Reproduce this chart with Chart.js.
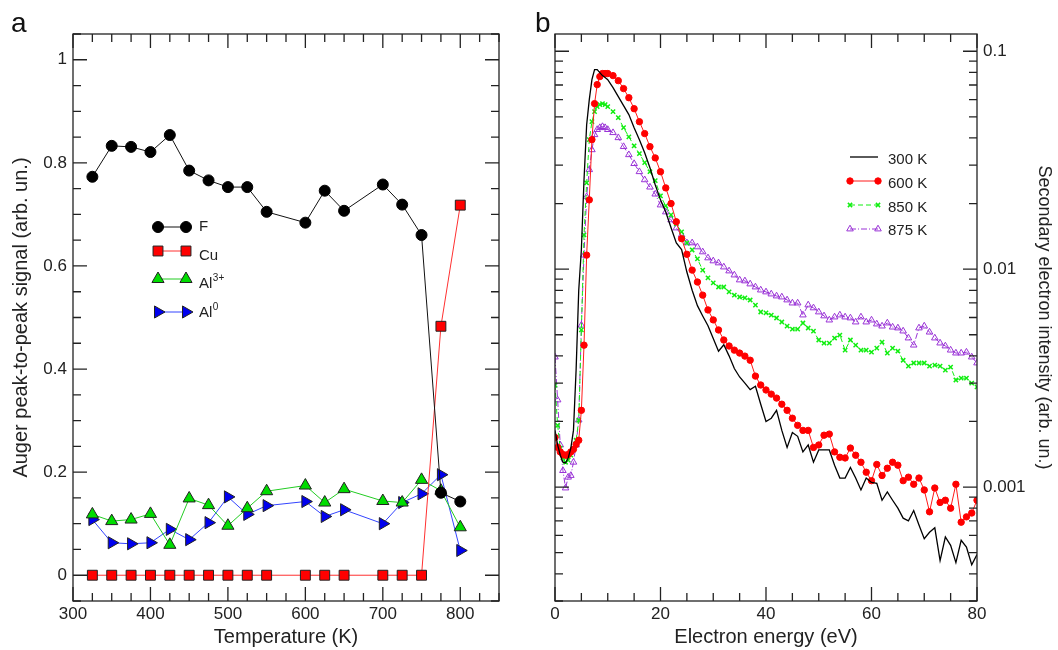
<!DOCTYPE html>
<html>
<head>
<meta charset="utf-8">
<script src="https://cdn.jsdelivr.net/npm/chart.js@4.4.0/dist/chart.umd.min.js"></script>
<style>
  body { margin: 0; background: #fff; width: 1058px; height: 650px; overflow: hidden; position: relative;
         font-family: 'Liberation Sans', Arial, Helvetica, sans-serif; color: #111; }
  .panel { position: absolute; top: 0; height: 650px; }
  #wrapA { left: 0; width: 530px; }
  #wrapB { left: 530px; width: 528px; }
  .tag { position: absolute; font-size: 28px; line-height: 28px; top: 9px; }
</style>
</head>
<body>
<div class="panel" id="wrapA"><canvas id="chartA" width="530" height="650"></canvas></div>
<div class="panel" id="wrapB"><canvas id="chartB" width="528" height="650"></canvas></div>
<div class="tag" style="left:11px">a</div>
<div class="tag" style="left:535px">b</div>
<script>
// ---- panel a : Auger signal vs temperature
const tempK   = [325, 350, 375, 400, 425, 450, 475, 500, 525, 550, 600, 625, 650, 700, 725, 750, 775, 800];
const fluorine = [0.773, 0.833, 0.831, 0.821, 0.854, 0.785, 0.766, 0.753, 0.753, 0.705, 0.684, 0.746, 0.707, 0.758, 0.719, 0.660, 0.160, 0.143];
const copper   = [0, 0, 0, 0, 0, 0, 0, 0, 0, 0, 0, 0, 0, 0, 0, 0, 0.483, 0.718];
const alum3    = [0.118, 0.105, 0.108, 0.119, 0.059, 0.149, 0.136, 0.096, 0.130, 0.163, 0.174, 0.141, 0.167, 0.144, 0.141, 0.185, 0.164, 0.093];
const alum0    = [0.108, 0.063, 0.061, 0.063, 0.089, 0.069, 0.102, 0.152, 0.118, 0.135, 0.143, 0.114, 0.127, 0.100, 0.141, 0.158, 0.195, 0.048];
const tempTicks   = [300, 400, 500, 600, 700, 800];
const signalTicks = [0, 0.2, 0.4, 0.6, 0.8, 1];

// ---- panel b : secondary electron spectra
const energyEV = [0, 0.5, 1, 1.5, 2, 2.5, 3, 3.5, 4, 4.5, 5, 5.5, 6, 6.5, 7, 7.5, 8, 8.5, 9, 9.5, 10,
  11, 12, 13, 14, 15, 16, 17, 18, 19, 20,
  21, 22, 23, 24, 25, 26, 27, 28, 29, 30,
  31, 32, 33, 34, 35, 36, 37, 38, 39, 40,
  41, 42, 43, 44, 45, 46, 47, 48, 49, 50,
  51, 52, 53, 54, 55, 56, 57, 58, 59, 60,
  61, 62, 63, 64, 65, 66, 67, 68, 69, 70,
  71, 72, 73, 74, 75, 76, 77, 78, 79, 80];
const se300 = [0.00182, 0.00156, 0.0014, 0.0013, 0.00129, 0.00136, 0.00151, 0.00182, 0.00344, 0.0080, 0.0123, 0.0257, 0.046, 0.060, 0.0741, 0.0824, 0.0824, 0.0798, 0.0773, 0.0757, 0.0741,
  0.0681, 0.0619, 0.0563, 0.0512, 0.0446, 0.0393, 0.0342, 0.0292, 0.0244, 0.0208,
  0.0183, 0.0155, 0.0132, 0.0123, 0.0097, 0.0080, 0.0068, 0.0061, 0.0055, 0.0048,
  0.0042, 0.0045, 0.0040, 0.0035, 0.0032, 0.0030, 0.0028, 0.0029, 0.0024, 0.0020,
  0.00207, 0.00225, 0.00182, 0.00152, 0.00178, 0.00171, 0.00145, 0.00156, 0.0013, 0.00148,
  0.00148, 0.00148, 0.00126, 0.0011, 0.0011, 0.00123, 0.0011, 0.00097, 0.0011, 0.00105,
  0.00104, 0.00087, 0.00095, 0.00087, 0.0008, 0.00072, 0.0007, 0.00078, 0.00067, 0.00058,
  0.00062, 0.00065, 0.00046, 0.00059, 0.00054, 0.00045, 0.00057, 0.00053, 0.00044, 0.00049];
const se600 = [0.00169, 0.00152, 0.00145, 0.00141, 0.0014, 0.00141, 0.00145, 0.00149, 0.00157, 0.00164, 0.00225, 0.00448, 0.0116, 0.0208, 0.0393, 0.0575, 0.0703, 0.0765, 0.079, 0.079, 0.079,
  0.0773, 0.0733, 0.0674, 0.0612, 0.0545, 0.0475, 0.0419, 0.0365, 0.0324, 0.0280,
  0.0236, 0.0200, 0.0165, 0.0138, 0.0117, 0.0099, 0.00873, 0.0076, 0.0065, 0.00585,
  0.00526, 0.00473, 0.00444, 0.00425, 0.00412, 0.00399, 0.00382, 0.00323, 0.00294, 0.00279,
  0.00267, 0.00256, 0.0024, 0.00225, 0.00207, 0.00192, 0.00182, 0.00182, 0.00152, 0.00156,
  0.00173, 0.00175, 0.00145, 0.00137, 0.00136, 0.00151, 0.0014, 0.0013, 0.00117, 0.00107,
  0.00127, 0.00113, 0.00122, 0.0013, 0.00126, 0.00107, 0.00111, 0.00103, 0.0011, 0.00097,
  0.00077, 0.00099, 0.00085, 0.00087, 0.0008, 0.00103, 0.00069, 0.00073, 0.00076, 0.00087];
const se850 = [0.00294, 0.00192, 0.00151, 0.00136, 0.0013, 0.00133, 0.0014, 0.00148, 0.00164, 0.00203, 0.00526, 0.01436, 0.0249, 0.0393, 0.0475, 0.0528, 0.0557, 0.0569, 0.0575, 0.0569, 0.0557,
  0.0528, 0.0496, 0.0446, 0.0405, 0.0368, 0.0339, 0.0308, 0.0280, 0.0255, 0.0217,
  0.0195, 0.01774, 0.01614, 0.01483, 0.0132, 0.01225, 0.01114, 0.0099, 0.00912, 0.00865,
  0.00828, 0.00828, 0.00786, 0.0076, 0.00745, 0.00738, 0.00722, 0.00684, 0.00636, 0.0063,
  0.00615, 0.00597, 0.00572, 0.00548, 0.00531, 0.00531, 0.00566, 0.00537, 0.0052, 0.00473,
  0.00458, 0.00458, 0.00483, 0.00498, 0.00425, 0.00473, 0.00448, 0.00425, 0.00425, 0.00416,
  0.00434, 0.00463, 0.00412, 0.00434, 0.00421, 0.00382, 0.00359, 0.00371, 0.00371, 0.00371,
  0.00359, 0.00363, 0.00359, 0.00344, 0.00355, 0.0031, 0.00316, 0.00316, 0.003, 0.00288];
const se875 = [0.00395, 0.00251, 0.00156, 0.00119, 0.00099, 0.00111, 0.00113, 0.0013, 0.00156, 0.00203, 0.00553, 0.0116, 0.0215, 0.0286, 0.0353, 0.0414, 0.0437, 0.0446, 0.0451, 0.0446, 0.0437,
  0.0423, 0.0401, 0.0365, 0.0335, 0.0305, 0.0280, 0.0257, 0.0238, 0.0221, 0.0197,
  0.0183, 0.01683, 0.01545, 0.01436, 0.0132, 0.0132, 0.01265, 0.012, 0.01126, 0.01091,
  0.01068, 0.01023, 0.00981, 0.0094, 0.00892, 0.00883, 0.00855, 0.00828, 0.00802, 0.00786,
  0.00769, 0.00753, 0.00745, 0.00722, 0.00699, 0.00699, 0.00616, 0.00685, 0.00664, 0.00636,
  0.0061, 0.00584, 0.00603, 0.00616, 0.00603, 0.00597, 0.00572, 0.00603, 0.00572, 0.00584,
  0.0056, 0.00548, 0.00566, 0.00542, 0.00537, 0.0052, 0.00483, 0.00448, 0.00537, 0.00548,
  0.00514, 0.00483, 0.00458, 0.00444, 0.00425, 0.00412, 0.00412, 0.00416, 0.00395, 0.00371];
const energyTicks    = [0, 20, 40, 60, 80];
const intensityTicks = [0.001, 0.01, 0.1];

const FONT = "'Liberation Sans', Arial, Helvetica, sans-serif";
const INK = '#222';

// inward ticks on all four sides + frame
const frameTicks = {
  id: 'frameTicks',
  afterDatasetsDraw(chart, args, o) {
    const { ctx, chartArea: a } = chart;
    const xs = chart.scales.x, ys = chart.scales.y;
    ctx.save();
    ctx.strokeStyle = INK;
    ctx.lineWidth = 1.3;
    ctx.strokeRect(a.left, a.top, a.right - a.left, a.bottom - a.top);
    ctx.beginPath();
    const xMaj = xs.ticks.map(t => t.value);
    for (let i = 0; ; i++) {
      const v = xs.min + i * o.xMinor;
      if (v > xs.max + 1e-9) break;
      const len = xMaj.some(m => Math.abs(m - v) < 1e-6) ? 14 : 8;
      const px = xs.getPixelForValue(v);
      ctx.moveTo(px, a.bottom); ctx.lineTo(px, a.bottom - len);
      ctx.moveTo(px, a.top); ctx.lineTo(px, a.top + len);
    }
    const yMaj = ys.ticks.map(t => t.value);
    const yVals = [];
    if (o.yLog) {
      for (let k = -5; k <= 1; k++) for (let d = 1; d <= 9; d++) {
        const v = d * Math.pow(10, k);
        if (v >= ys.min && v <= ys.max) yVals.push([v, d === 1]);
      }
    } else {
      for (let i = 0; ; i++) {
        const v = ys.min + i * o.yMinor;
        if (v > ys.max + 1e-9) break;
        yVals.push([v, yMaj.some(m => Math.abs(m - v) < 1e-6)]);
      }
    }
    yVals.forEach(([v, major]) => {
      const len = major ? 14 : 8;
      const py = ys.getPixelForValue(v);
      ctx.moveTo(a.left, py); ctx.lineTo(a.left + len, py);
      ctx.moveTo(a.right, py); ctx.lineTo(a.right - len, py);
    });
    ctx.stroke();
    ctx.restore();
  }
};

// legend drawn inside the plot, entries given per chart
const innerLegend = {
  id: 'innerLegend',
  afterDraw(chart, args, o) {
    const ctx = chart.ctx;
    ctx.save();
    o.items.forEach(it => {
      const ds = chart.data.datasets[it.ds];
      ctx.strokeStyle = ds.borderColor;
      ctx.lineWidth = ds.borderWidth;
      ctx.setLineDash(ds.borderDash || []);
      ctx.beginPath();
      ctx.moveTo(o.x0, it.y); ctx.lineTo(o.x1, it.y);
      ctx.stroke();
      ctx.setLineDash([]);
      if (ds.pointRadius > 0) {
        const opt = { pointStyle: ds.pointStyle, radius: ds.pointRadius, rotation: ds.pointRotation || 0, borderWidth: ds.pointBorderWidth };
        ctx.fillStyle = ds.pointBackgroundColor;
        ctx.strokeStyle = ds.pointBorderColor;
        ctx.lineWidth = ds.pointBorderWidth;
        Chart.helpers.drawPoint(ctx, opt, o.x0, it.y);
        Chart.helpers.drawPoint(ctx, opt, o.x1, it.y);
      }
      ctx.fillStyle = INK;
      ctx.textBaseline = 'middle';
      ctx.textAlign = 'left';
      ctx.font = o.size + 'px ' + FONT;
      ctx.fillText(it.text, o.tx, it.ty);
      if (it.sup) {
        const w = ctx.measureText(it.text).width;
        ctx.font = Math.round(o.size * 0.68) + 'px ' + FONT;
        ctx.fillText(it.sup, o.tx + w + 0.5, it.ty - 6);
      }
    });
    ctx.restore();
  }
};

const tickFont = { family: FONT, size: 17 };
const titleFont = { family: FONT, size: 20 };
const noGrid = { display: false, drawTicks: false, tickLength: 0 };

function ptsA(vals) { return tempK.map((t, i) => ({ x: t, y: vals[i] })); }
function ptsB(vals) { return energyEV.map((e, i) => ({ x: e, y: vals[i] })); }

new Chart(document.getElementById('chartA'), {
  type: 'line',
  data: {
    datasets: [
      { label: 'F', data: ptsA(fluorine), borderColor: '#111', borderWidth: 1, pointStyle: 'circle', pointRadius: 5.5,
        pointBackgroundColor: '#000', pointBorderColor: '#000', pointBorderWidth: 1 },
      { label: 'Cu', data: ptsA(copper), borderColor: '#ff3030', borderWidth: 1, pointStyle: 'rect', pointRadius: 7,
        pointBackgroundColor: '#ff0000', pointBorderColor: '#222', pointBorderWidth: 1 },
      { label: 'Al3+', data: ptsA(alum3), borderColor: '#22cc22', borderWidth: 1, pointStyle: 'triangle', pointRadius: 7,
        pointBackgroundColor: '#00dd00', pointBorderColor: '#222', pointBorderWidth: 1 },
      { label: 'Al0', data: ptsA(alum0), borderColor: '#3344ff', borderWidth: 1, pointStyle: 'triangle', pointRadius: 7,
        pointRotation: 90, pointBackgroundColor: '#0000ee', pointBorderColor: '#222', pointBorderWidth: 1 }
    ]
  },
  options: {
    responsive: false, animation: false,
    layout: { padding: { left: 0, right: 31, top: 34, bottom: 0 } },
    plugins: {
      legend: { display: false }, tooltip: { enabled: false },
      frameTicks: { xMinor: 25, yMinor: 0.05 },
      innerLegend: {
        x0: 158, x1: 186, tx: 199, size: 15,
        items: [
          { ds: 0, y: 227, ty: 227, text: 'F' },
          { ds: 1, y: 251, ty: 256, text: 'Cu' },
          { ds: 2, y: 279, ty: 284, text: 'Al', sup: '3+' },
          { ds: 3, y: 312, ty: 313, text: 'Al', sup: '0' }
        ]
      }
    },
    scales: {
      x: {
        type: 'linear', min: 300, max: 850,
        afterBuildTicks: s => { s.ticks = tempTicks.map(v => ({ value: v })); },
        afterFit: s => { s.height = 49; },
        grid: noGrid, border: { display: false },
        ticks: { font: tickFont, color: INK, padding: 3, maxRotation: 0 },
        title: { display: true, text: 'Temperature (K)', font: titleFont, color: INK, padding: { top: 0, bottom: 1 } }
      },
      y: {
        type: 'linear', min: -0.05, max: 1.05,
        afterBuildTicks: s => { s.ticks = signalTicks.map(v => ({ value: v })); },
        afterFit: s => { s.width = 73; },
        grid: noGrid, border: { display: false },
        ticks: { font: tickFont, color: INK, padding: 6, callback: v => String(v) },
        title: { display: true, text: 'Auger peak-to-peak signal (arb. un.)', font: titleFont, color: INK, padding: { top: 9, bottom: 0 } }
      }
    }
  },
  plugins: [frameTicks, innerLegend]
});

new Chart(document.getElementById('chartB'), {
  type: 'line',
  data: {
    datasets: [
      { label: '300 K', data: ptsB(se300), borderColor: '#000', borderWidth: 1.3, pointRadius: 0 },
      { label: '600 K', data: ptsB(se600), borderColor: '#ff1a1a', borderWidth: 1, pointStyle: 'circle', pointRadius: 3.2,
        pointBackgroundColor: '#ff0000', pointBorderColor: '#ff0000', pointBorderWidth: 1 },
      { label: '850 K', data: ptsB(se850), borderColor: '#11ee11', borderWidth: 1, borderDash: [5, 3], pointStyle: 'crossRot', pointRadius: 3,
        pointBackgroundColor: '#11ee11', pointBorderColor: '#11ee11', pointBorderWidth: 1.5 },
      { label: '875 K', data: ptsB(se875), borderColor: '#9a33d6', borderWidth: 1, borderDash: [6, 2, 1, 2], pointStyle: 'triangle', pointRadius: 3.8,
        pointBackgroundColor: 'rgba(255,255,255,0)', pointBorderColor: '#9a33d6', pointBorderWidth: 1 }
    ]
  },
  options: {
    responsive: false, animation: false,
    layout: { padding: { left: 25, right: 0, top: 34, bottom: 0 } },
    plugins: {
      legend: { display: false }, tooltip: { enabled: false },
      frameTicks: { xMinor: 5, yLog: true },
      innerLegend: {
        x0: 320, x1: 348, tx: 358, size: 15,
        items: [
          { ds: 0, y: 157, ty: 160, text: '300 K' },
          { ds: 1, y: 181, ty: 184, text: '600 K' },
          { ds: 2, y: 205, ty: 208, text: '850 K' },
          { ds: 3, y: 229, ty: 231, text: '875 K' }
        ]
      }
    },
    scales: {
      x: {
        type: 'linear', min: 0, max: 80,
        afterBuildTicks: s => { s.ticks = energyTicks.map(v => ({ value: v })); },
        afterFit: s => { s.height = 49; },
        grid: noGrid, border: { display: false },
        ticks: { font: tickFont, color: INK, padding: 3, maxRotation: 0 },
        title: { display: true, text: 'Electron energy (eV)', font: titleFont, color: INK, padding: { top: 0, bottom: 1 } }
      },
      y: {
        type: 'logarithmic', position: 'right', min: 0.0003, max: 0.12,
        afterBuildTicks: s => { s.ticks = intensityTicks.map(v => ({ value: v })); },
        afterFit: s => { s.width = 81; },
        grid: noGrid, border: { display: false },
        ticks: { font: tickFont, color: INK, padding: 6, callback: v => String(v) },
        title: { display: true, text: 'Secondary electron intensity (arb. un.)', font: { family: FONT, size: 18 }, color: INK, padding: { top: 3, bottom: 0 } }
      }
    }
  },
  plugins: [frameTicks, innerLegend]
});
</script>
</body>
</html>
